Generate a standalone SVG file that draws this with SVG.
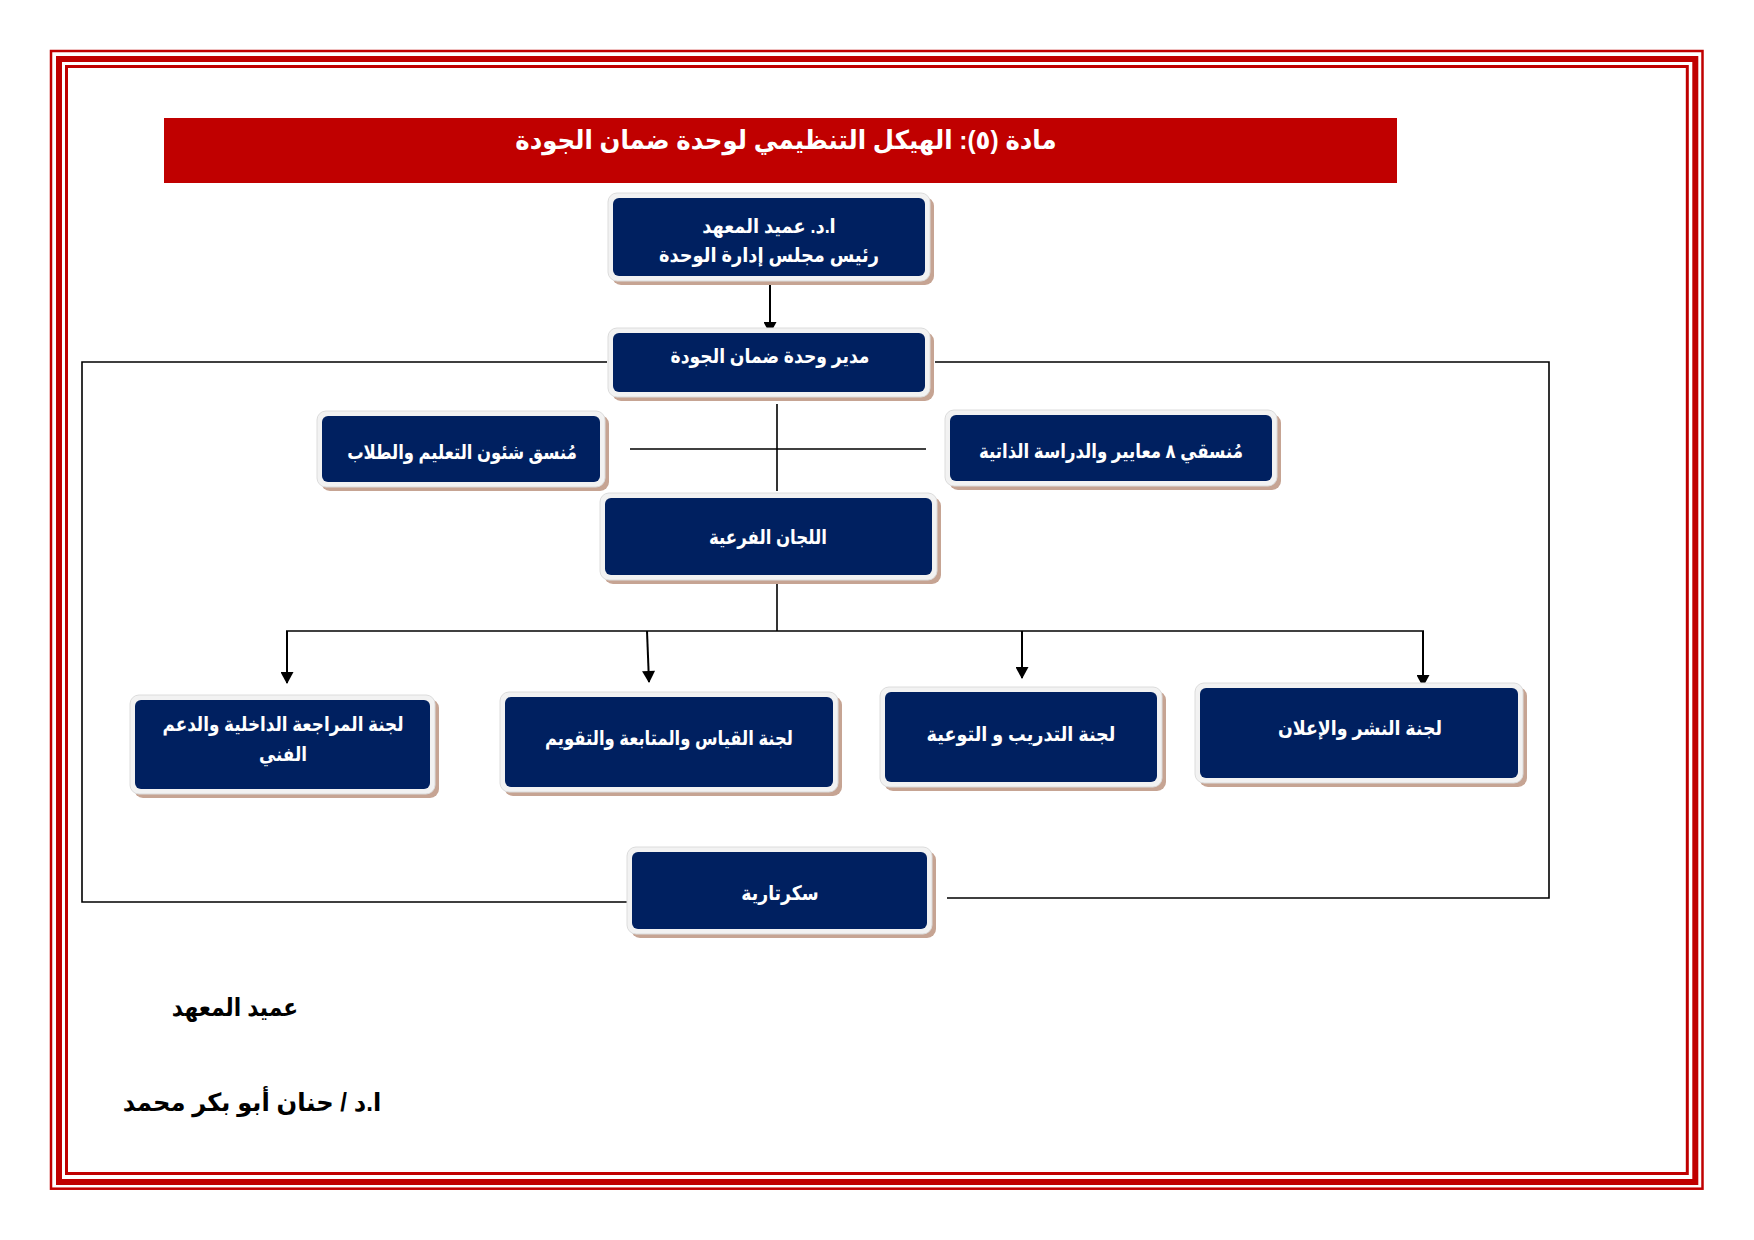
<svg xmlns="http://www.w3.org/2000/svg" width="1754" height="1240" viewBox="0 0 1754 1240">
<defs>
<style>
.bd{fill:none;stroke:#C00000}
.sh{fill:#C6A493}
.rim{fill:#F2F2F2;stroke:#DCDCDC;stroke-width:1}
.box{fill:#002060}
.t{font-family:"Liberation Sans","DejaVu Sans",sans-serif;font-weight:bold;fill:#FFFFFF;font-size:20px;text-anchor:middle;direction:rtl}
.tt{font-size:26px}
.ft{font-family:"Liberation Sans","DejaVu Sans",sans-serif;font-weight:bold;fill:#000000;font-size:25px;text-anchor:middle;direction:rtl}
.ln{fill:none;stroke:#000;stroke-width:1.6}
.ar{fill:none;stroke:#000;stroke-width:2;marker-end:url(#ah)}
</style>
<marker id="ah" markerUnits="userSpaceOnUse" markerWidth="13" markerHeight="13" viewBox="0 0 12 13" refX="11" refY="6.5" orient="auto">
<path d="M0,0 L12,6.5 L0,13 Z" fill="#000"/>
</marker>
</defs>
<rect width="1754" height="1240" fill="#FFFFFF"/>
<g id="border">
<rect class="bd" x="51" y="51" width="1651.5" height="1137.7" stroke-width="2.5"/>
<rect class="bd" x="59" y="59" width="1636.3" height="1123" stroke-width="6"/>
<rect class="bd" x="66.5" y="66.5" width="1620.8" height="1107" stroke-width="3"/>
</g>
<g id="title">
<rect x="164" y="118" width="1233" height="65" fill="#C00000"/>
<text class="t tt" transform="translate(786,149) scale(0.94,1)">مادة (٥): الهيكل التنظيمي لوحدة ضمان الجودة</text>
</g>
<g id="connectors">
<line class="ar" x1="770" y1="282" x2="770" y2="333"/>
<polyline class="ln" points="607,362 82,362 82,902 628,902"/>
<polyline class="ln" points="935,362 1549,362 1549,898 947,898"/>
<line class="ln" x1="777" y1="404" x2="777" y2="491"/>
<line class="ln" x1="630" y1="449" x2="926" y2="449"/>
<line class="ln" x1="777" y1="582" x2="777" y2="631"/>
<line class="ln" x1="286" y1="631" x2="1424" y2="631"/>
<line class="ar" x1="287" y1="631" x2="287" y2="683"/>
<line class="ar" x1="647" y1="631" x2="649" y2="682"/>
<line class="ar" x1="1022" y1="631" x2="1022" y2="678"/>
<line class="ar" x1="1423" y1="631" x2="1423" y2="686"/>
</g>
<g id="n-dean">
<rect class="sh" x="612" y="197" width="322" height="88" rx="9"/>
<rect class="rim" x="608" y="193" width="322" height="88" rx="9"/>
<rect class="box" x="613" y="198" width="312" height="78" rx="6"/>
<text class="t" transform="translate(769,233) scale(0.89,1)">ا.د. عميد المعهد</text>
<text class="t" transform="translate(769,262) scale(0.89,1)">رئيس مجلس إدارة الوحدة</text>
</g>
<g id="n-manager">
<rect class="sh" x="612" y="332" width="322" height="69" rx="9"/>
<rect class="rim" x="608" y="328" width="322" height="69" rx="9"/>
<rect class="box" x="613" y="333" width="312" height="59" rx="6"/>
<text class="t" transform="translate(770,363) scale(0.86,1)">مدير وحدة ضمان الجودة</text>
</g>
<g id="n-coord-edu">
<rect class="sh" x="321" y="415" width="288" height="76" rx="9"/>
<rect class="rim" x="317" y="411" width="288" height="76" rx="9"/>
<rect class="box" x="322" y="416" width="278" height="66" rx="6"/>
<text class="t" transform="translate(462,459) scale(0.82,1)">مُنسق شئون التعليم والطلاب</text>
</g>
<g id="n-coord-std">
<rect class="sh" x="949" y="414" width="332" height="76" rx="9"/>
<rect class="rim" x="945" y="410" width="332" height="76" rx="9"/>
<rect class="box" x="950" y="415" width="322" height="66" rx="6"/>
<text class="t" transform="translate(1111,458) scale(0.83,1)">مُنسقي ٨ معايير والدراسة الذاتية</text>
</g>
<g id="n-sub">
<rect class="sh" x="604" y="497" width="337" height="87" rx="9"/>
<rect class="rim" x="600" y="493" width="337" height="87" rx="9"/>
<rect class="box" x="605" y="498" width="327" height="77" rx="6"/>
<text class="t" transform="translate(768,544) scale(0.83,1)">اللجان الفرعية</text>
</g>
<g id="n-review">
<rect class="sh" x="134" y="699" width="305" height="99" rx="9"/>
<rect class="rim" x="130" y="695" width="305" height="99" rx="9"/>
<rect class="box" x="135" y="700" width="295" height="89" rx="6"/>
<text class="t" transform="translate(283,731) scale(0.84,1)">لجنة المراجعة الداخلية والدعم</text>
<text class="t" transform="translate(283,761) scale(0.84,1)">الفني</text>
</g>
<g id="n-measure">
<rect class="sh" x="504" y="696" width="338" height="100" rx="9"/>
<rect class="rim" x="500" y="692" width="338" height="100" rx="9"/>
<rect class="box" x="505" y="697" width="328" height="90" rx="6"/>
<text class="t" transform="translate(669,745) scale(0.82,1)">لجنة القياس والمتابعة والتقويم</text>
</g>
<g id="n-training">
<rect class="sh" x="884" y="691" width="282" height="100" rx="9"/>
<rect class="rim" x="880" y="687" width="282" height="100" rx="9"/>
<rect class="box" x="885" y="692" width="272" height="90" rx="6"/>
<text class="t" transform="translate(1021,741) scale(0.88,1)">لجنة التدريب و التوعية</text>
</g>
<g id="n-publish">
<rect class="sh" x="1199" y="687" width="328" height="100" rx="9"/>
<rect class="rim" x="1195" y="683" width="328" height="100" rx="9"/>
<rect class="box" x="1200" y="688" width="318" height="90" rx="6"/>
<text class="t" transform="translate(1360,735) scale(0.87,1)">لجنة النشر والإعلان</text>
</g>
<g id="n-secretary">
<rect class="sh" x="631" y="851" width="305" height="87" rx="9"/>
<rect class="rim" x="627" y="847" width="305" height="87" rx="9"/>
<rect class="box" x="632" y="852" width="295" height="77" rx="6"/>
<text class="t" transform="translate(780,900) scale(0.86,1)">سكرتارية</text>
</g>
<g id="footer">
<text class="ft" transform="translate(235,1016) scale(0.87,1)">عميد المعهد</text>
<text class="ft" transform="translate(252,1111) scale(0.97,1)">ا.د / حنان أبو بكر محمد</text>
</g>
</svg>
